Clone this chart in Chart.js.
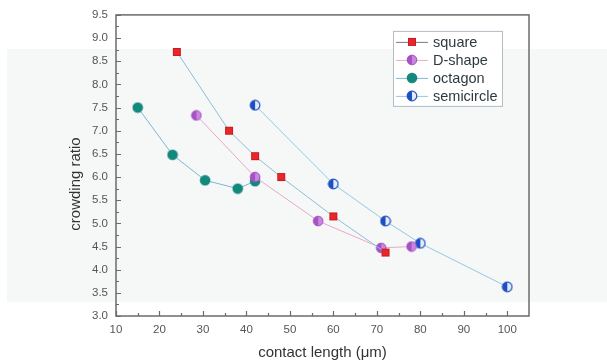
<!DOCTYPE html>
<html>
<head>
<meta charset="utf-8">
<script src="https://cdn.jsdelivr.net/npm/chart.js@4.4.0/dist/chart.umd.min.js"></script>
<style>
  body { margin: 0; background: #fff; }
  #wrap { width: 607px; height: 364px; position: relative; }
</style>
</head>
<body>
<div id="wrap"><canvas id="chart"></canvas></div>
<script>
// data
const seriesNames = ["square", "D-shape", "octagon", "semicircle"];
const squareX = [24, 36, 42, 48, 60, 72];
const squareY = [8.7, 7.0, 6.45, 6.0, 5.15, 4.37];
const dshapeX = [28.5, 42, 56.5, 71, 78];
const dshapeY = [7.33, 6.0, 5.05, 4.47, 4.5];
const octagonX = [15, 23, 30.5, 38, 42];
const octagonY = [7.5, 6.48, 5.93, 5.75, 5.91];
const semiX = [42, 60, 72, 80, 100];
const semiY = [7.55, 5.85, 5.05, 4.57, 3.63];
const yTitle = "crowding ratio";

const pairs = (xs, ys) => xs.map((x, i) => ({ x: x, y: ys[i] }));
const FONT = "'Liberation Sans', Arial, sans-serif";

// small marker images
function marker(kind) {
  const c = document.createElement("canvas");
  c.width = 12; c.height = 12;
  const g = c.getContext("2d");
  if (kind === "square") {
    g.fillStyle = "#e8262b";
    g.fillRect(2, 2, 8, 8);
    g.strokeStyle = "#c81c20";
    g.strokeRect(2.5, 2.5, 7, 7);
  } else if (kind === "dshape") {
    g.beginPath(); g.arc(6, 6, 4.8, 0, Math.PI * 2);
    g.fillStyle = "#c787dc"; g.fill();
    g.beginPath(); g.arc(6, 6, 4.8, Math.PI / 2, Math.PI * 1.5);
    g.fillStyle = "#a652c4"; g.fill();
    g.beginPath(); g.arc(6, 6, 4.8, 0, Math.PI * 2);
    g.strokeStyle = "#a04cc0"; g.lineWidth = 1; g.stroke();
  } else if (kind === "octagon") {
    g.beginPath(); g.arc(6, 6, 5.3, 0, Math.PI * 2);
    g.fillStyle = "#13897e"; g.fill();
  } else {
    g.beginPath(); g.arc(6, 6, 4.8, 0, Math.PI * 2);
    g.fillStyle = "#e4ecfb"; g.fill();
    g.beginPath(); g.arc(6, 6, 4.8, Math.PI / 2, Math.PI * 1.5);
    g.fillStyle = "#1d4fc4"; g.fill();
    g.beginPath(); g.arc(6, 6, 4.8, 0, Math.PI * 2);
    g.strokeStyle = "#1d4fc4"; g.lineWidth = 1.2; g.stroke();
  }
  return c;
}

const lineColors = ["#8dbfd8", "#e8aacb", "#7fb6d6", "#92cbe0"];
const markers = [marker("square"), marker("dshape"), marker("octagon"), marker("semi")];

// faint scan band behind everything + frame, inward ticks, y title, legend box
const decor = {
  id: "decor",
  beforeDraw(chart) {
    const g = chart.ctx;
    g.save();
    g.fillStyle = "#f6f7f7";
    g.fillRect(7, 49, chart.width - 7, 253);
    g.restore();
  },
  afterDraw(chart) {
    const g = chart.ctx;
    const a = chart.chartArea;
    const xs = chart.scales.x, ys = chart.scales.y;
    g.save();
    g.strokeStyle = "#6b6b6b";
    g.lineWidth = 1.5;
    g.strokeRect(a.left, a.top, a.right - a.left, a.bottom - a.top);
    g.lineWidth = 1.2;
    g.beginPath();
    for (let v = 10; v <= 100; v += 5) {
      const px = Math.round(xs.getPixelForValue(v)) + 0.5;
      const len = v % 10 === 0 ? 5 : 3;
      g.moveTo(px, a.bottom); g.lineTo(px, a.bottom - len);
    }
    for (let v = 3.0; v <= 9.5001; v += 0.25) {
      const py = Math.round(ys.getPixelForValue(v)) + 0.5;
      const major = Math.abs(v * 2 - Math.round(v * 2)) < 1e-6;
      g.moveTo(a.left, py); g.lineTo(a.left + (major ? 5 : 3), py);
    }
    g.stroke();

    // y axis title, sits a little below the middle in the original
    g.save();
    g.translate(76, ys.getPixelForValue(5.85));
    g.rotate(-Math.PI / 2);
    g.font = "15px " + FONT;
    g.fillStyle = "#333";
    g.textAlign = "center";
    g.textBaseline = "middle";
    g.fillText(yTitle, 0, 0);
    g.restore();

    // legend
    const bx = a.right - 136, by = a.top + 16, bw = 109, bh = 75;
    g.fillStyle = "#ffffff";
    g.fillRect(bx, by, bw, bh);
    g.strokeStyle = "#b4bcc4";
    g.lineWidth = 1;
    g.strokeRect(bx + 0.5, by + 0.5, bw, bh);
    g.font = "14.5px " + FONT;
    g.textBaseline = "middle";
    chart.data.datasets.forEach((ds, i) => {
      const cy = by + 11 + i * 18;
      g.strokeStyle = i === 0 ? "#7a7a7a" : ds.borderColor;
      g.lineWidth = 1;
      g.beginPath(); g.moveTo(bx + 3, cy + 0.5); g.lineTo(bx + 35, cy + 0.5); g.stroke();
      g.drawImage(ds.pointStyle, bx + 19 - 6, cy - 6);
      g.fillStyle = "#2e3a40";
      g.fillText(ds.label, bx + 40, cy + 1);
    });
    g.restore();
  }
};

const datasets = [
  pairs(squareX, squareY), pairs(dshapeX, dshapeY),
  pairs(octagonX, octagonY), pairs(semiX, semiY)
].map((d, i) => ({
  label: seriesNames[i],
  data: d,
  showLine: true,
  borderColor: lineColors[i],
  borderWidth: 1,
  pointStyle: markers[i],
  pointRadius: 6,
  tension: 0
}));

new Chart(document.getElementById("chart"), {
  type: "scatter",
  data: { datasets: datasets },
  plugins: [decor],
  options: {
    responsive: true,
    maintainAspectRatio: false,
    animation: false,
    layout: { padding: { left: 0, right: 78, top: 14, bottom: 0 } },
    plugins: { legend: { display: false }, tooltip: { enabled: false } },
    scales: {
      x: {
        type: "linear",
        min: 10, max: 105,
        afterFit: s => { s.height = 48; },
        grid: { display: false, drawTicks: false },
        border: { display: false },
        ticks: {
          stepSize: 10, includeBounds: false, padding: 7,
          color: "#555",
          font: { family: FONT, size: 11.5 },
          maxRotation: 0
        },
        title: {
          display: true, text: "contact length (\u03bcm)",
          color: "#333",
          font: { family: FONT, size: 15 },
          padding: { top: 0, bottom: 2 }
        }
      },
      y: {
        type: "linear",
        min: 3.0, max: 9.5,
        afterFit: s => { s.width = 116; },
        grid: { display: false, drawTicks: false },
        border: { display: false },
        ticks: {
          stepSize: 0.5, padding: 8,
          color: "#555",
          font: { family: FONT, size: 11.5 },
          callback: v => Number(v).toFixed(1)
        }
      }
    }
  }
});
</script>
</body>
</html>
